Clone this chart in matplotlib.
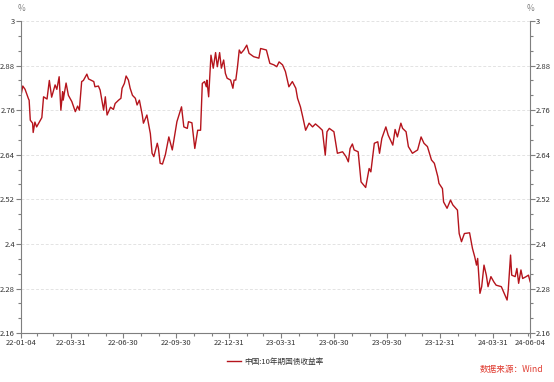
import matplotlib
matplotlib.use('Agg')
import matplotlib.pyplot as plt
import matplotlib.ticker as mticker
import pandas as pd

plt.rcParams['font.family'] = ['Noto Sans CJK SC', 'DejaVu Sans']

# data
dates = [
    '2022-01-04', '2022-01-07', '2022-01-11', '2022-01-17', '2022-01-18', '2022-01-20',
    '2022-01-24', '2022-01-25', '2022-01-28', '2022-01-31', '2022-02-09', '2022-02-12',
    '2022-02-18', '2022-02-22', '2022-02-26', '2022-03-04', '2022-03-07', '2022-03-11',
    '2022-03-14', '2022-03-17', '2022-03-18', '2022-03-23', '2022-03-27', '2022-04-02',
    '2022-04-08', '2022-04-12', '2022-04-15', '2022-04-19', '2022-04-22', '2022-04-28',
    '2022-05-01', '2022-05-10', '2022-05-12', '2022-05-18', '2022-05-21', '2022-05-27',
    '2022-05-30', '2022-06-02', '2022-06-08', '2022-06-13', '2022-06-16', '2022-06-22',
    '2022-06-26', '2022-06-28', '2022-07-02', '2022-07-05', '2022-07-09', '2022-07-12',
    '2022-07-16', '2022-07-21', '2022-07-24', '2022-07-28', '2022-08-02', '2022-08-04',
    '2022-08-10', '2022-08-16', '2022-08-19', '2022-08-22', '2022-08-28', '2022-08-30',
    '2022-09-02', '2022-09-06', '2022-09-11', '2022-09-17', '2022-09-23', '2022-10-01',
    '2022-10-09', '2022-10-13', '2022-10-19', '2022-10-21', '2022-10-27', '2022-11-01',
    '2022-11-06', '2022-11-11', '2022-11-14', '2022-11-18', '2022-11-21', '2022-11-22',
    '2022-11-25', '2022-11-29', '2022-12-03', '2022-12-07', '2022-12-10', '2022-12-14',
    '2022-12-17', '2022-12-21', '2022-12-24', '2022-12-27', '2023-01-02', '2023-01-06',
    '2023-01-08', '2023-01-11', '2023-01-14', '2023-01-17', '2023-01-20', '2023-01-25',
    '2023-01-30', '2023-02-03', '2023-02-11', '2023-02-20', '2023-02-23', '2023-03-05',
    '2023-03-11', '2023-03-18', '2023-03-23', '2023-03-27', '2023-04-02', '2023-04-07',
    '2023-04-13', '2023-04-19', '2023-04-25', '2023-04-28', '2023-05-03', '2023-05-07',
    '2023-05-12', '2023-05-18', '2023-05-24', '2023-05-29', '2023-06-04', '2023-06-10',
    '2023-06-15', '2023-06-18', '2023-06-22', '2023-06-30', '2023-07-06', '2023-07-15',
    '2023-07-21', '2023-07-25', '2023-07-28', '2023-08-01', '2023-08-04', '2023-08-11',
    '2023-08-16', '2023-08-24', '2023-08-30', '2023-09-02', '2023-09-08', '2023-09-14',
    '2023-09-17', '2023-09-21', '2023-09-28', '2023-10-02', '2023-10-10', '2023-10-14',
    '2023-10-18', '2023-10-24', '2023-10-27', '2023-11-02', '2023-11-06', '2023-11-13',
    '2023-11-22', '2023-11-28', '2023-12-03', '2023-12-09', '2023-12-16', '2023-12-21',
    '2023-12-27', '2023-12-29', '2024-01-04', '2024-01-06', '2024-01-12', '2024-01-18',
    '2024-01-22', '2024-01-30', '2024-02-02', '2024-02-06', '2024-02-11', '2024-02-20',
    '2024-02-25', '2024-02-29', '2024-03-03', '2024-03-05', '2024-03-09', '2024-03-12',
    '2024-03-16', '2024-03-20', '2024-03-23', '2024-03-28', '2024-04-02', '2024-04-06',
    '2024-04-15', '2024-04-20', '2024-04-25', '2024-04-27', '2024-05-01', '2024-05-03',
    '2024-05-09', '2024-05-12', '2024-05-15', '2024-05-19', '2024-05-22', '2024-05-28',
    '2024-06-01', '2024-06-04',
]
yields = [
    2.800, 2.825, 2.816, 2.790, 2.787, 2.733,
    2.725, 2.700, 2.728, 2.715, 2.740, 2.796,
    2.790, 2.840, 2.795, 2.828, 2.816, 2.850,
    2.760, 2.810, 2.787, 2.833, 2.800, 2.783,
    2.756, 2.771, 2.760, 2.837, 2.840, 2.857,
    2.844, 2.837, 2.823, 2.825, 2.814, 2.760,
    2.796, 2.747, 2.768, 2.762, 2.778, 2.787,
    2.792, 2.819, 2.832, 2.852, 2.841, 2.819,
    2.800, 2.792, 2.774, 2.787, 2.747, 2.725,
    2.747, 2.697, 2.644, 2.635, 2.671, 2.657,
    2.617, 2.615, 2.640, 2.688, 2.653, 2.729,
    2.769, 2.715, 2.711, 2.729, 2.726, 2.657,
    2.706, 2.706, 2.832, 2.837, 2.823, 2.841,
    2.796, 2.908, 2.873, 2.915, 2.877, 2.915,
    2.873, 2.895, 2.859, 2.846, 2.841, 2.819,
    2.841, 2.841, 2.877, 2.922, 2.913, 2.922,
    2.935, 2.913, 2.904, 2.900, 2.926, 2.922,
    2.886, 2.882, 2.877, 2.890, 2.882, 2.864,
    2.823, 2.837, 2.819, 2.792, 2.769, 2.742,
    2.706, 2.725, 2.715, 2.723, 2.715, 2.706,
    2.639, 2.702, 2.711, 2.702, 2.644, 2.648,
    2.635, 2.621, 2.657, 2.669, 2.653, 2.648,
    2.567, 2.552, 2.603, 2.594, 2.671, 2.675,
    2.644, 2.684, 2.715, 2.693, 2.666, 2.708,
    2.688, 2.725, 2.711, 2.702, 2.662, 2.644,
    2.653, 2.688, 2.671, 2.662, 2.626, 2.617,
    2.581, 2.563, 2.549, 2.513, 2.496, 2.518,
    2.505, 2.491, 2.428, 2.406, 2.428, 2.430,
    2.388, 2.365, 2.343, 2.361, 2.267, 2.285,
    2.343, 2.316, 2.285, 2.312, 2.298, 2.289,
    2.285, 2.267, 2.249, 2.276, 2.370, 2.316,
    2.312, 2.334, 2.294, 2.330, 2.307, 2.312,
    2.316, 2.298,
]
series_name = '中国:10年期国债收益率'
x_labels = ['2022-01-04', '2022-03-31', '2022-06-30', '2022-09-30', '2022-12-31',
            '2023-03-31', '2023-06-30', '2023-09-30', '2023-12-31', '2024-03-31',
            '2024-06-04']
y_ticks = [2.16, 2.28, 2.4, 2.52, 2.64, 2.76, 2.88, 3.0]

dates = pd.to_datetime(dates)
x_labels = pd.to_datetime(x_labels)

fig = plt.figure(figsize=(5.54, 3.82), dpi=100)
ax = fig.add_axes([0.038, 0.128, 0.919, 0.817])

line, = ax.plot(dates, yields, color='#b5141c', linewidth=1.0)

ax.set_xlim(x_labels[0], x_labels[-1])
ax.set_ylim(2.16, 3.0)

ax.set_yticks(y_ticks)
ax.yaxis.set_minor_locator(mticker.MultipleLocator(0.04))
ax.yaxis.set_major_formatter(mticker.FuncFormatter(lambda v, p: f'{v:g}'))
ax.set_xticks(x_labels)
ax.set_xticklabels([d.strftime('%y-%m-%d') for d in x_labels])
ax.set_xticks(pd.date_range('2022-01-31', '2024-05-31', freq='ME'), minor=True)

ax.yaxis.set_ticks_position('both')
ax.tick_params(axis='y', which='both', labelright=True, labelleft=True)
ax.tick_params(which='both', direction='out', color='#7f7f7f', width=0.8,
               labelsize=5.5, labelcolor='#333333', pad=0.8)
ax.tick_params(which='major', length=3.5)
ax.tick_params(which='minor', length=2.5)

for s in ['left', 'right', 'bottom']:
    ax.spines[s].set_color('#7f7f7f')
    ax.spines[s].set_linewidth(0.8)
ax.spines['top'].set_visible(False)

ax.grid(axis='y', which='major', color='#e3e3e3', linestyle=(0, (3, 2)), linewidth=0.7)
ax.set_axisbelow(True)

fig.text(0.038, 0.978, '%', fontsize=6, color='#808080', ha='center', va='center')
fig.text(0.957, 0.978, '%', fontsize=6, color='#808080', ha='center', va='center')

fig.legend([line], [series_name], loc='center', bbox_to_anchor=(0.497, 0.052),
           frameon=False, fontsize=5.5, handlelength=1.8, handletextpad=0.5,
           labelcolor='#333333')
fig.text(0.98, 0.02, '数据来源：Wind', fontsize=6.2, color='#e03c31', ha='right', va='bottom')

fig.savefig('out.png', dpi=100)
